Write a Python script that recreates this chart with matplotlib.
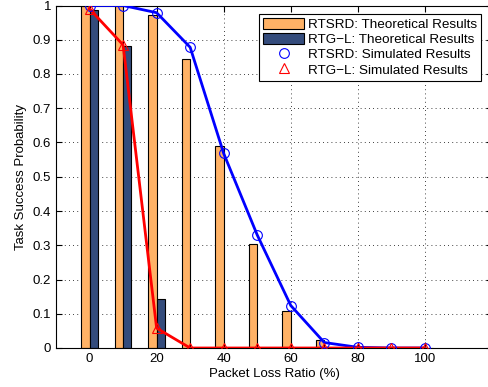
import numpy as np
import matplotlib
matplotlib.use("Agg")
import matplotlib.pyplot as plt

plt.rcParams['font.family'] = ['Liberation Sans', 'DejaVu Sans']

loss = [0, 10, 20, 30, 40, 50, 60, 70, 80, 90, 100]
rtsrd_theory = [1.0, 1.0, 0.972, 0.845, 0.589, 0.303, 0.107, 0.023, 0.0, 0.0, 0.0]
rtgl_theory = [0.987, 0.882, 0.144, 0.0, 0.0, 0.0, 0.0, 0.0, 0.0, 0.0, 0.0]
rtsrd_sim = [1.0, 1.0, 0.979, 0.878, 0.568, 0.330, 0.124, 0.016, 0.002, 0.0, 0.0]
rtgl_sim = [0.99, 0.885, 0.058, 0.0, 0.0, 0.0, 0.0, 0.0, 0.0, 0.0, 0.0]

fig = plt.figure(figsize=(4.89, 3.87), dpi=100)
ax = fig.add_axes([56/489, 39/387, 436/489, 342.5/387])

x = np.array(loss)
w = 2.5
b1 = ax.bar(x - w/2, rtsrd_theory, width=w, color='#FFB266', edgecolor='black',
            linewidth=0.8, label='RTSRD: Theoretical Results', zorder=2)
b2 = ax.bar(x + w/2, rtgl_theory, width=w, color='#344C7C', edgecolor='black',
            linewidth=0.8, label='RTG\u2212L: Theoretical Results', zorder=2)
ax.plot(x, rtsrd_sim, color='#0000FF', lw=2, zorder=3)
m1, = ax.plot(x, rtsrd_sim, ls='none', marker='o', ms=7, mfc='none', mec='#0000FF',
              mew=0.8, label='RTSRD: Simulated Results', zorder=4)
ax.plot(x, rtgl_sim, color='#FF0000', lw=2, zorder=3)
m2, = ax.plot(x, rtgl_sim, ls='none', marker='^', ms=7, mfc='none', mec='#FF0000',
              mew=0.8, label='RTG\u2212L: Simulated Results', zorder=4)

ax.set_xlim(-10, 120)
ax.set_ylim(0, 1)
ax.set_xticks([0, 20, 40, 60, 80, 100])
ax.set_yticks(np.arange(0, 1.01, 0.1))
ax.set_yticklabels(['0', '0.1', '0.2', '0.3', '0.4', '0.5', '0.6', '0.7', '0.8', '0.9', '1'])
ax.grid(True, color='black', ls=(0, (1, 4)), lw=0.6)
ax.set_axisbelow(True)
ax.tick_params(direction='in', labelsize=9.5, top=True, right=True, length=4)
for s in ax.spines.values():
    s.set_linewidth(0.8)

ax.set_xlabel('Packet Loss Ratio (%)', fontsize=9.5, labelpad=2)
ax.set_ylabel('Task Success Probability', fontsize=9.5, labelpad=4)

handles = [b1, b2, m1, m2]
leg = ax.legend(handles, [h.get_label() for h in handles], loc='upper right',
                bbox_to_anchor=((481 - 56) / 436, 1 - 8 / 342.5),
                fontsize=9.7, fancybox=False, edgecolor='black', framealpha=1,
                handlelength=3.0, handleheight=0.9, handletextpad=0.3,
                borderpad=0.3, labelspacing=0.15, borderaxespad=0)
leg.get_frame().set_linewidth(0.8)

fig.savefig('out.png', dpi=100)
